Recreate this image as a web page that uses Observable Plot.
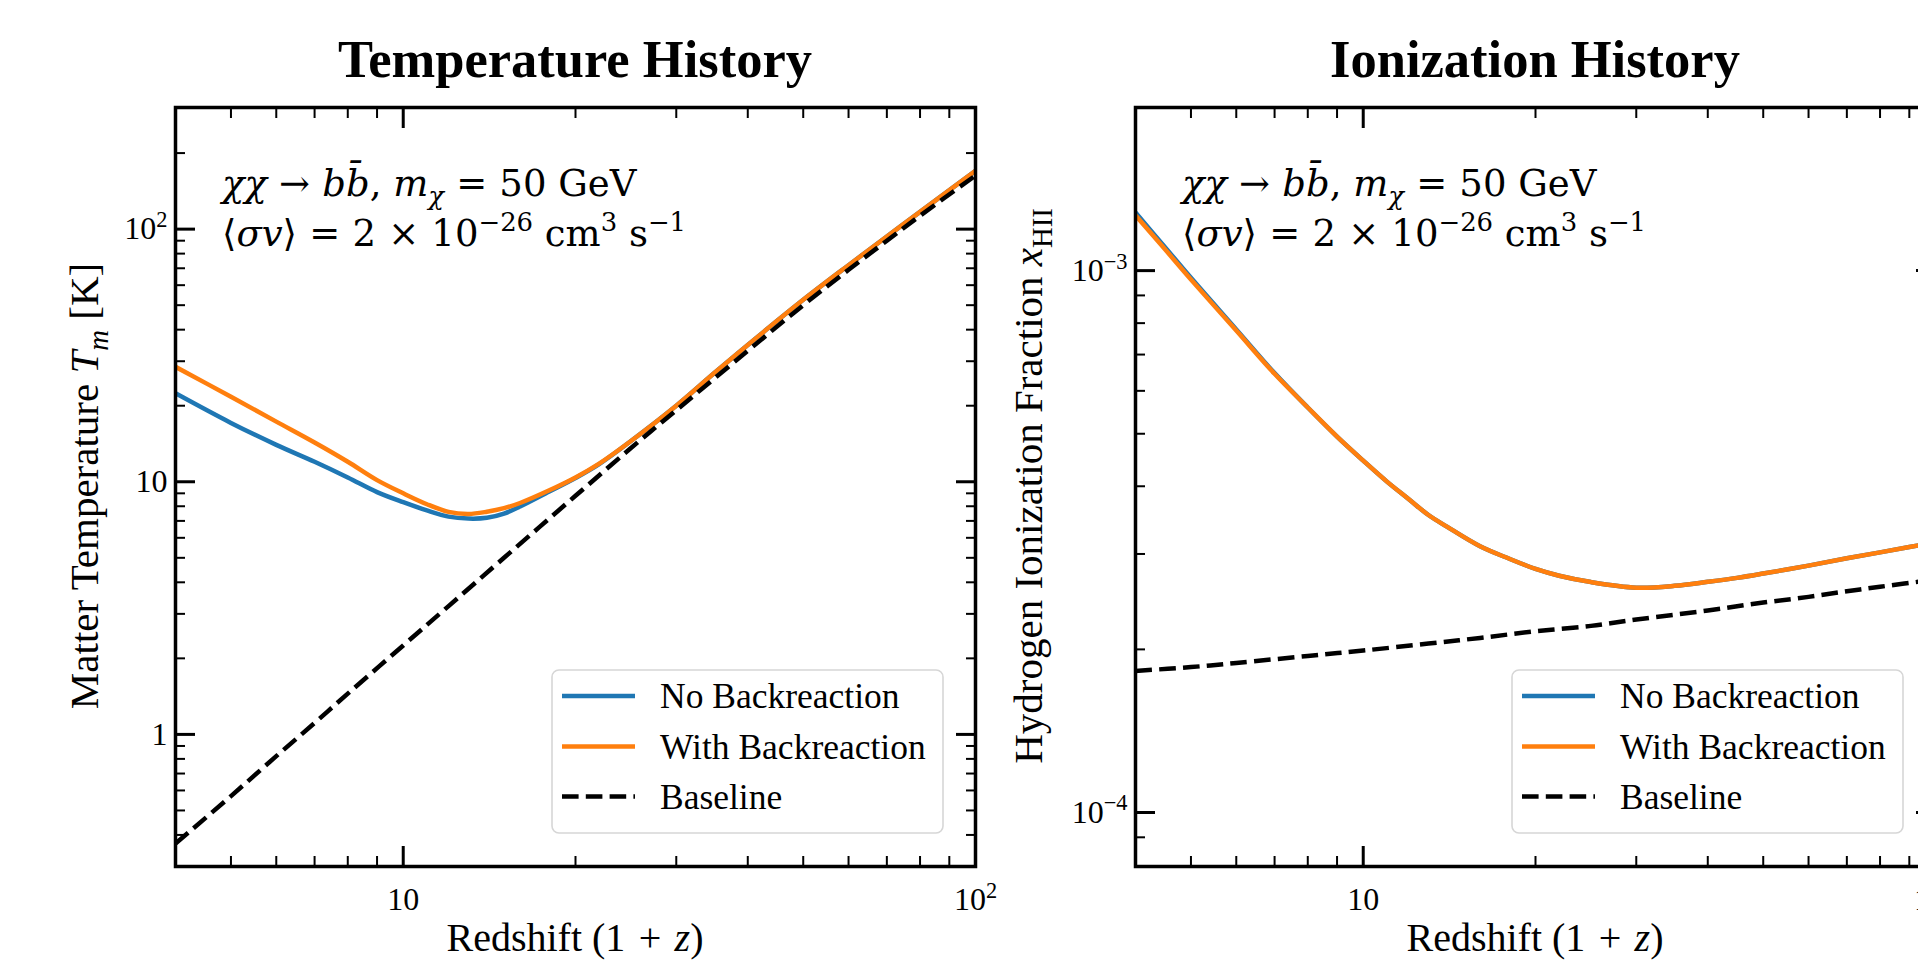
<!DOCTYPE html>
<html>
<head>
<meta charset="utf-8">
<script src="https://cdn.jsdelivr.net/npm/d3@7"></script>
<script src="https://cdn.jsdelivr.net/npm/@observablehq/plot@0.6"></script>
<style>
  html, body { margin: 0; padding: 0; background: #fff; overflow: hidden; }
  #wrap { position: relative; width: 1918px; height: 960px; overflow: hidden; background: #fff; }
  #wrap svg { position: absolute; top: 0; }
  text { white-space: pre; }
</style>
</head>
<body>
<div id="wrap"></div>
<script>
// ---------- data ----------
// Left panel: matter temperature T_m [K] vs redshift (1+z)
const zTemp = [4, 5, 6, 7, 8, 9, 10, 11, 12, 13, 14, 15, 16, 18, 20, 22, 25, 30, 35, 40, 50, 60, 70, 80, 100];
const tempNoBackreaction = [22.4, 17.1, 14.0, 12.0, 10.4, 9.1, 8.3, 7.7, 7.28, 7.15, 7.2, 7.48, 7.98, 9.15, 10.35, 11.75, 14.5, 20.0, 27.0, 34.8, 52.5, 72, 93.5, 117, 170];
const tempWithBackreaction = [28.5, 21.7, 17.3, 14.3, 12.0, 10.15, 9.0, 8.15, 7.6, 7.46, 7.61, 7.86, 8.24, 9.25, 10.4, 11.8, 14.5, 20.0, 27.0, 34.8, 52.5, 72, 93.5, 117, 170];
const zTempBase = [4, 5, 6, 7, 8, 10, 12, 15, 20, 25, 30, 40, 50, 60, 70, 80, 100];
const tempBaseline = [0.37, 0.57, 0.82, 1.11, 1.45, 2.25, 3.22, 5.0, 8.8, 13.6, 19.2, 33, 50, 69, 90, 113, 163];

// Right panel: hydrogen ionization fraction x_HII vs redshift (1+z)
const zIon = [4, 4.5, 5, 6, 7, 8, 9, 10, 11, 12, 13, 14, 16, 18, 20, 22, 25, 30, 35, 40, 45, 50, 60, 70, 80, 90, 100];
const ionNoBackreaction = [1.28e-3, 1.106e-3, 9.7e-4, 7.79e-4, 6.47e-4, 5.59e-4, 4.94e-4, 4.46e-4, 4.08e-4, 3.79e-4, 3.54e-4, 3.37e-4, 3.10e-4, 2.94e-4, 2.815e-4, 2.735e-4, 2.662e-4, 2.60e-4, 2.62e-4, 2.665e-4, 2.71e-4, 2.76e-4, 2.855e-4, 2.945e-4, 3.02e-4, 3.09e-4, 3.15e-4];
const ionWithBackreaction = [1.265e-3, 1.096e-3, 9.63e-4, 7.75e-4, 6.45e-4, 5.59e-4, 4.94e-4, 4.46e-4, 4.08e-4, 3.79e-4, 3.54e-4, 3.37e-4, 3.10e-4, 2.94e-4, 2.815e-4, 2.735e-4, 2.662e-4, 2.60e-4, 2.62e-4, 2.665e-4, 2.71e-4, 2.76e-4, 2.855e-4, 2.945e-4, 3.02e-4, 3.09e-4, 3.15e-4];
const zIonBase = [4, 5, 6, 8, 10, 13, 16, 20, 25, 30, 40, 50, 60, 70, 80, 100];
const ionBaseline = [1.825e-4, 1.855e-4, 1.888e-4, 1.945e-4, 1.99e-4, 2.05e-4, 2.10e-4, 2.16e-4, 2.21e-4, 2.27e-4, 2.36e-4, 2.44e-4, 2.50e-4, 2.56e-4, 2.61e-4, 2.69e-4];

// ticks
const xDomain = [4, 100];
const xTicksMajor = [10, 100];
const xTickLabels = ["10", "10^2"];
const xTicksMinor = [5, 6, 7, 8, 9, 20, 30, 40, 50, 60, 70, 80, 90];
const tempDomain = [0.3, 303];
const tempTicksMajor = [1, 10, 100];
const tempTickLabels = ["1", "10", "10^2"];
const tempTicksMinor = [0.4, 0.5, 0.6, 0.7, 0.8, 0.9, 2, 3, 4, 5, 6, 7, 8, 9, 20, 30, 40, 50, 60, 70, 80, 90, 200];
const ionDomain = [7.95e-5, 2.0e-3];
const ionTicksMajor = [1e-4, 1e-3];
const ionTickLabels = ["10^\u22124", "10^\u22123"];
const ionTicksMinor = [9e-5, 2e-4, 3e-4, 4e-4, 5e-4, 6e-4, 7e-4, 8e-4, 9e-4];

const seriesNames = ["No Backreaction", "With Backreaction", "Baseline"];
const seriesColors = ["#1f77b4", "#ff7f0e", "#000000"];

const titles = ["Temperature History", "Ionization History"];

// ---------- drawing ----------
const FONT = "'Liberation Serif','DejaVu Serif',serif";
const MATHFONT = "'DejaVu Serif','Liberation Serif',serif";
const wrap = document.getElementById("wrap");
const DASH = "16.6,7.2";
const LW = 4.5;
const SP = "\u2004"; // third-em space (math-like spacing)

function toRows(xs, ys) { return xs.map((x, i) => ({x, y: ys[i]})); }

function labelFmt(values, labels) {
  return d => { const i = values.findIndex(v => Math.abs(v - d) / v < 1e-9); return i >= 0 ? labels[i] : ""; };
}

function richText(sel, parts, size) {
  let shift = 0;
  for (const [txt, st = ""] of parts) {
    const ts = sel.append("tspan").text(txt);
    if (st.includes("i")) ts.attr("font-style", "italic");
    let target = 0;
    if (st.includes("_")) target = 0.24 * size;
    if (st.includes("^")) target = -0.42 * size;
    if (st.includes("_") || st.includes("^")) ts.attr("font-size", (size * 0.7).toFixed(1));
    if (target !== shift) { ts.attr("dy", (target - shift).toFixed(1)); shift = target; }
  }
}

function supify(svg) {
  d3.select(svg).selectAll("text").each(function () {
    const s = this.textContent;
    if (s.includes("^")) {
      const [base, exp] = s.split("^");
      const t = d3.select(this);
      t.text(base);
      t.append("tspan").attr("font-size", "70%").attr("dy", "-0.55em").text(exp);
    }
  });
}

function makePanel(cfg) {
  const svg = Plot.plot({
    width: 1000,
    height: 960,
    marginLeft: 175,
    marginRight: 25,
    marginTop: 107,
    marginBottom: 94,
    style: {background: "transparent", fontFamily: FONT, fontSize: "32px", color: "#000", overflow: "visible"},
    x: {type: "log", domain: xDomain, label: null},
    y: {type: "log", domain: cfg.yDomain, label: null},
    marks: [
      Plot.line(cfg.noBack, {x: "x", y: "y", stroke: seriesColors[0], strokeWidth: LW, curve: "catmull-rom", clip: true}),
      Plot.line(cfg.withBack, {x: "x", y: "y", stroke: seriesColors[1], strokeWidth: LW, curve: "catmull-rom", clip: true}),
      Plot.line(cfg.base, {x: "x", y: "y", stroke: seriesColors[2], strokeWidth: LW, strokeDasharray: DASH, strokeLinecap: "butt", curve: "catmull-rom", clip: true}),
      // bottom axis with labels
      Plot.axisX(xTicksMajor, {anchor: "bottom", tickSize: -20, tickPadding: 41, strokeWidth: 3, tickFormat: labelFmt(xTicksMajor, xTickLabels), label: null, fontSize: 32}),
      Plot.axisX(xTicksMinor, {anchor: "bottom", tickSize: -10, strokeWidth: 2, tickFormat: () => "", label: null}),
      Plot.axisX(xTicksMajor, {anchor: "top", tickSize: -20, strokeWidth: 3, tickFormat: () => "", label: null}),
      Plot.axisX(xTicksMinor, {anchor: "top", tickSize: -10, strokeWidth: 2, tickFormat: () => "", label: null}),
      // left axis with labels
      Plot.axisY(cfg.yMajor, {anchor: "left", tickSize: -20, tickPadding: 28, strokeWidth: 3, tickFormat: labelFmt(cfg.yMajor, cfg.yLabels), label: null, fontSize: 32}),
      Plot.axisY(cfg.yMinor, {anchor: "left", tickSize: -10, strokeWidth: 2, tickFormat: () => "", label: null}),
      Plot.axisY(cfg.yMajor, {anchor: "right", tickSize: -20, strokeWidth: 3, tickFormat: () => "", label: null}),
      Plot.axisY(cfg.yMinor, {anchor: "right", tickSize: -10, strokeWidth: 2, tickFormat: () => "", label: null}),
      Plot.frame({stroke: "#000", strokeWidth: 3.5})
    ]
  });
  svg.style.left = cfg.left + "px";
  supify(svg);

  const g = d3.select(svg).append("g").attr("font-family", FONT).attr("fill", "#000").attr("text-anchor", "start");

  // title
  g.append("text").attr("x", 575).attr("y", 77).attr("text-anchor", "middle")
    .attr("font-size", 52.5).attr("font-weight", "bold").text(cfg.title);

  // annotation (two lines, math-like)
  const A = 37;
  const l1 = g.append("text").attr("x", 222).attr("y", 196).attr("font-size", A)
    .attr("font-family", MATHFONT).attr("text-anchor", "start");
  richText(l1, [
    ["\u03C7\u03C7", "i"], [SP + "\u2192" + SP], ["bb\u0304", "i"], [", "], ["m", "i"], ["\u03C7", "i_"],
    [SP + "=" + SP + "50 GeV"]
  ], A);
  const l2 = g.append("text").attr("x", 222).attr("y", 246).attr("font-size", A)
    .attr("font-family", MATHFONT).attr("text-anchor", "start");
  richText(l2, [
    ["\u27E8"], ["\u03C3v", "i"], ["\u27E9"], [SP + "=" + SP + "2" + SP + "\u00D7" + SP + "10"], ["\u221226", "^"],
    [" cm"], ["3", "^"], [" s"], ["\u22121", "^"]
  ], A);

  // x label
  const xl = g.append("text").attr("x", 575).attr("y", 951).attr("text-anchor", "middle").attr("font-size", 40);
  richText(xl, [["Redshift (1\u2004+\u2004"], ["z", "i"], [")"]], 40);

  // y label
  const yl = g.append("text").attr("transform", `translate(${cfg.yLabelX},486) rotate(-90)`)
    .attr("text-anchor", "middle").attr("font-size", 41);
  richText(yl, cfg.yLabelParts, 41);

  // legend
  const lg = g.append("g");
  lg.append("rect").attr("x", 552).attr("y", 670).attr("width", 391).attr("height", 163).attr("rx", 7)
    .attr("fill", "#fff").attr("fill-opacity", 0.8).attr("stroke", "#d6d6d6").attr("stroke-width", 1.6);
  const rowsY = [696, 746.5, 796.5];
  seriesNames.forEach((name, i) => {
    lg.append("line").attr("x1", 562).attr("x2", 635).attr("y1", rowsY[i]).attr("y2", rowsY[i])
      .attr("stroke", seriesColors[i]).attr("stroke-width", LW)
      .attr("stroke-dasharray", i === 2 ? DASH : null);
    lg.append("text").attr("x", 660).attr("y", rowsY[i]).attr("dy", "0.34em").attr("font-size", 35.5)
      .attr("text-anchor", "start").text(name);
  });

  wrap.appendChild(svg);
}

makePanel({
  left: 0,
  title: titles[0],
  yDomain: tempDomain,
  yMajor: tempTicksMajor,
  yLabels: tempTickLabels,
  yMinor: tempTicksMinor,
  noBack: toRows(zTemp, tempNoBackreaction),
  withBack: toRows(zTemp, tempWithBackreaction),
  base: toRows(zTempBase, tempBaseline),
  yLabelX: 98,
  yLabelParts: [["Matter Temperature "], ["T", "i"], ["m", "i_"], [" [K]"]]
});

makePanel({
  left: 960,
  title: titles[1],
  yDomain: ionDomain,
  yMajor: ionTicksMajor,
  yLabels: ionTickLabels,
  yMinor: ionTicksMinor,
  noBack: toRows(zIon, ionNoBackreaction),
  withBack: toRows(zIon, ionWithBackreaction),
  base: toRows(zIonBase, ionBaseline),
  yLabelX: 82,
  yLabelParts: [["Hydrogen Ionization Fraction "], ["x", "i"], ["HII", "_"]]
});
</script>
</body>
</html>
